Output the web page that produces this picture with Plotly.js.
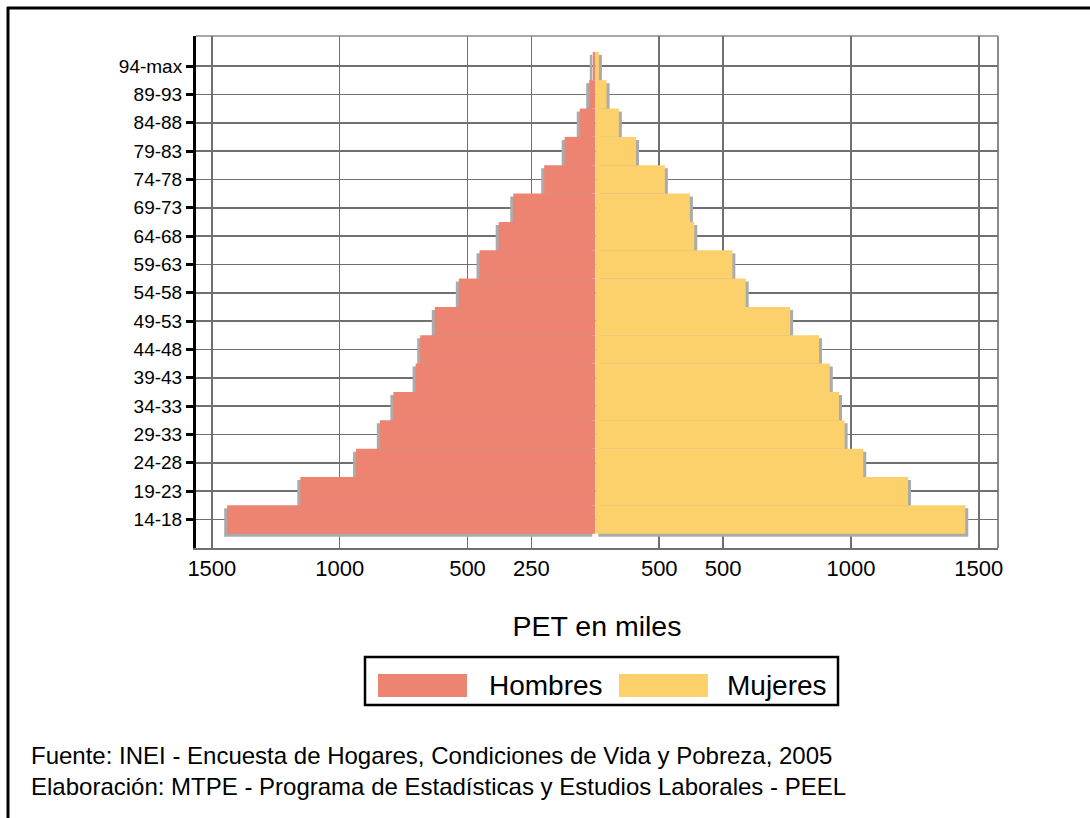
<!DOCTYPE html>
<html>
<head>
<meta charset="utf-8">
<script src="https://cdn.plot.ly/plotly-3.0.1.min.js"></script>
<style>
html,body{margin:0;padding:0;background:#fff;}
#chart{width:1090px;height:818px;}
</style>
</head>
<body>
<div id="chart"></div>
<script>
// ---- Data ----
var ageGroups = ['14-18','19-23','24-28','29-33','34-33','39-43','44-48','49-53','54-58','59-63','64-68','69-73','74-78','79-83','84-88','89-93','94-max'];
var hombres = [1440, 1154, 936, 843, 790, 703, 685, 628, 534, 453, 378, 321, 200, 120, 61, 24, 10];
var mujeres = [1447, 1223, 1048, 975, 953, 917, 875, 762, 588, 536, 387, 370, 272, 159, 92, 44, 14];
var xTickVals = [-1500, -1000, -500, -250, 250, 500, 1000, 1500];
var xTickText = ['1500', '1000', '500', '250', '500', '500', '1000', '1500'];
var seriesNames = ['Hombres', 'Mujeres'];
var xTitle = 'PET en miles';
var footer1 = 'Fuente: INEI - Encuesta de Hogares, Condiciones de Vida y Pobreza, 2005';
var footer2 = 'Elaboración: MTPE - Programa de Estadísticas y Estudios Laborales - PEEL';

// ---- Styling ----
var W = 1090, H = 818;
var FONT = 'Liberation Sans, Arial, sans-serif';
var colH = '#ED8371', colM = '#FCD16C', shadowCol = '#ababab';
var plotL = 196, plotR = 998, plotT = 36, plotB = 548;
var xRange = [-1562, 1575];
var yRange = [-1.006, 17.06];
var pxPerUnit = (plotR - plotL) / (xRange[1] - xRange[0]);
var shX = 3 / pxPerUnit;                                   // 3 px outward
var shY = 3 / ((plotB - plotT) / (yRange[1] - yRange[0])); // 3 px down

function px(x){ return x / W; }
function py(y){ return 1 - y / H; }

var negH = hombres.map(function(v){ return -v; });

var traces = [
  { type:'bar', orientation:'h', y: ageGroups, x: negH, base: -shX,
    offset: -0.5 - shY, width: 1, marker:{color: shadowCol, line:{width:0}},
    hoverinfo:'skip', showlegend:false },
  { type:'bar', orientation:'h', y: ageGroups, x: mujeres, base: shX,
    offset: -0.5 - shY, width: 1, marker:{color: shadowCol, line:{width:0}},
    hoverinfo:'skip', showlegend:false },
  { type:'bar', orientation:'h', name: seriesNames[0], y: ageGroups, x: negH,
    offset: -0.5, width: 1, marker:{color: colH, line:{width:0}}, showlegend:false },
  { type:'bar', orientation:'h', name: seriesNames[1], y: ageGroups, x: mujeres,
    offset: -0.5, width: 1, marker:{color: colM, line:{width:0}}, showlegend:false }
];

var layout = {
  width: W, height: H,
  margin: {l:0, r:0, t:0, b:0},
  paper_bgcolor: '#fff', plot_bgcolor: '#fff',
  barmode: 'overlay',
  showlegend: false,
  font: {family: FONT, color: '#000'},
  xaxis: {
    domain: [px(plotL), px(plotR)],
    range: xRange,
    tickmode: 'array', tickvals: xTickVals, ticktext: xTickText,
    tickfont: {size: 22, color: '#000', family: FONT},
    showgrid: true, gridcolor: '#707070', gridwidth: 1.6,
    zeroline: false,
    showline: true, linecolor: '#707070', linewidth: 2,
    ticks: '', fixedrange: true,
    title: {text: xTitle, font: {size: 28.5, color: '#000', family: FONT}, standoff: 36}
  },
  yaxis: {
    domain: [py(plotB), py(plotT)],
    type: 'category', categoryorder: 'array', categoryarray: ageGroups,
    range: yRange,
    tickfont: {size: 19, color: '#000', family: FONT},
    showgrid: true, gridcolor: '#707070', gridwidth: 1.6,
    zeroline: false,
    showline: true, linecolor: '#000', linewidth: 3,
    ticks: 'outside', ticklen: 7, tickwidth: 3, tickcolor: '#000',
    fixedrange: true
  },
  shapes: [
    // plot frame top & right
    {type:'line', xref:'paper', yref:'paper', x0:px(plotL), x1:px(plotR), y0:py(plotT), y1:py(plotT), line:{color:'#a8a8a8', width:2}, layer:'below'},
    {type:'line', xref:'paper', yref:'paper', x0:px(plotR), x1:px(plotR), y0:py(plotT), y1:py(plotB), line:{color:'#8a8a8a', width:2}, layer:'below'},
    // outer figure frame
    {type:'line', xref:'paper', yref:'paper', x0:px(7), x1:1, y0:py(8), y1:py(8), line:{color:'#000', width:3}},
    {type:'line', xref:'paper', yref:'paper', x0:px(8), x1:px(8), y0:py(7), y1:0, line:{color:'#000', width:3}},
    // legend box
    {type:'rect', xref:'paper', yref:'paper', x0:px(365), x1:px(838), y0:py(705), y1:py(657), line:{color:'#000', width:2.5}, fillcolor:'#fff'},
    {type:'rect', xref:'paper', yref:'paper', x0:px(378), x1:px(467), y0:py(697), y1:py(674), line:{width:0}, fillcolor: colH},
    {type:'rect', xref:'paper', yref:'paper', x0:px(619), x1:px(708), y0:py(697), y1:py(674), line:{width:0}, fillcolor: colM}
  ],
  annotations: [
    {xref:'paper', yref:'paper', x:px(487), y:py(685), xanchor:'left', yanchor:'middle', showarrow:false,
     text: seriesNames[0], font:{size:28, color:'#000', family:FONT}},
    {xref:'paper', yref:'paper', x:px(725), y:py(685), xanchor:'left', yanchor:'middle', showarrow:false,
     text: seriesNames[1], font:{size:28, color:'#000', family:FONT}},
    {xref:'paper', yref:'paper', x:px(29), y:py(755), xanchor:'left', yanchor:'middle', showarrow:false,
     text: footer1, font:{size:24, color:'#000', family:FONT}},
    {xref:'paper', yref:'paper', x:px(29), y:py(786), xanchor:'left', yanchor:'middle', showarrow:false,
     text: footer2, font:{size:24, color:'#000', family:FONT}}
  ]
};

Plotly.newPlot('chart', traces, layout, {displayModeBar:false, staticPlot:true});
</script>
</body>
</html>
